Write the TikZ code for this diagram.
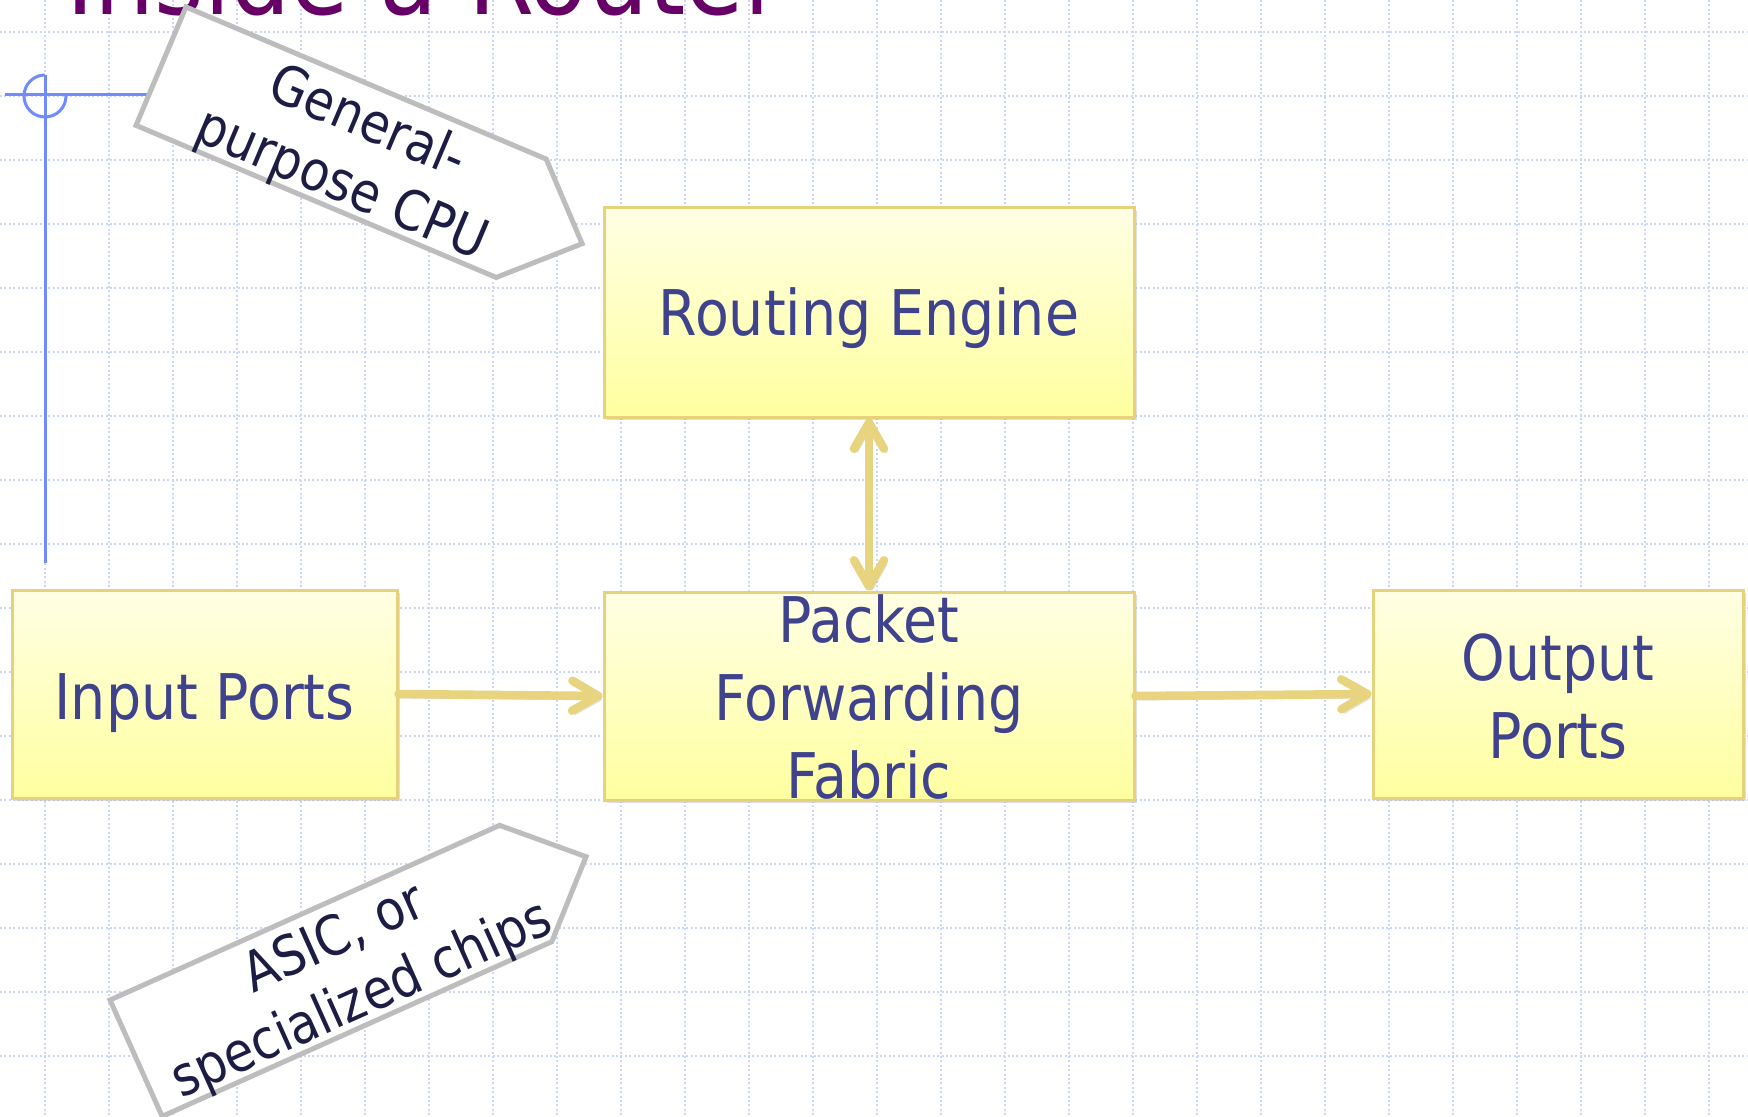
\documentclass[tikz,border=0pt]{standalone}
\usepackage{fontspec}
\setmainfont{DejaVu Sans}[FakeStretch=0.88]
\usetikzlibrary{arrows.meta,shadows}
\definecolor{gridc}{HTML}{CCD6F8}
\definecolor{markc}{HTML}{6F8CFF}
\definecolor{titlec}{HTML}{660066}
\definecolor{boxtop}{HTML}{FFFFE4}
\definecolor{boxbot}{HTML}{FFFFA0}
\definecolor{boxline}{HTML}{E6D27C}
\definecolor{arrowc}{HTML}{E8D47E}
\definecolor{boxtextc}{HTML}{3F428C}
\definecolor{calllinec}{HTML}{BDBDBD}
\definecolor{calltextc}{HTML}{1C1C44}
\begin{document}
\begin{tikzpicture}[x=0.5pt, y=-0.5pt,
  gridline/.style={draw=gridc, line width=1pt, dash pattern=on 1pt off 1.2pt},
  marker/.style={draw=markc, line width=1.5pt},
  block/.style={draw=boxline, line width=1.5pt, top color=boxtop, bottom color=boxbot,
    inner sep=0pt, drop shadow={shadow xshift=1.5pt, shadow yshift=-1.5pt, opacity=0.25}},
  blocktext/.style={text=boxtextc, align=center, inner sep=0pt,
    font=\fontsize{31.5pt}{39pt}\selectfont},
  callout/.style={draw=calllinec, line width=2.5pt, fill=white},
  calltext/.style={text=calltextc, align=center, inner sep=0pt,
    font=\fontsize{27.5pt}{33.5pt}\selectfont},
  flow/.style={draw=arrowc, line width=4.25pt, line cap=round,
    preaction={draw=black, opacity=0.15, transform canvas={shift={(1.5pt,-2pt)}}}},
  tipc/.tip={Straight Barb[length=13pt, width=15pt, round]}
]
\useasboundingbox (0,0) rectangle (1748,1117);
\clip (0,0) rectangle (1748,1117);
\fill[white] (0,0) rectangle (1748,1117);
% grid
\foreach \i in {0,...,26} \draw[gridline] ({45+64*\i},0) -- ({45+64*\i},1117);
\foreach \j in {0,...,16} \draw[gridline] (0,{32+64*\j}) -- (1748,{32+64*\j});
% title
\node[anchor=base west, inner sep=0pt, text=titlec,
  font=\fontsize{54pt}{60pt}\selectfont] (title) at (66,15) {Inside a Router};
% corner marker
\draw[marker] (45,75) -- (45,563);
\draw[marker] (5,95) -- (300,95);
\draw[marker] (45,75) arc[start angle=270, end angle=0, radius=21];
% callouts
\begin{scope}[shift={(186,7)}, rotate=-22.89]
  \draw[callout] (0,0) -- (391,0) -- (457,64) -- (391,128.5) -- (0,128.5) -- cycle;
\end{scope}
\node[calltext, rotate=-22.89] (cpu) at (354,155) {General-\\purpose CPU};
\begin{scope}[shift={(110,1000)}, rotate=24.15]
  \draw[callout] (0,0) -- (427,0) -- (493,64) -- (427,127.5) -- (0,127.5) -- cycle;
\end{scope}
\node[calltext, rotate=24.15] (asic) at (349,971) {ASIC, or\\specialized chips};
% blocks
\node[block, minimum width=265pt, minimum height=104.5pt] (re) at (869,312.5) {};
\node[blocktext] (retext) at ([yshift=-3pt]re.center) {Routing Engine};
\node[block, minimum width=265pt, minimum height=104pt] (pff) at (869,696) {};
\node[blocktext] (pfftext) at ([yshift=-0.5pt]pff.center) {Packet\\Forwarding\\Fabric};
\node[block, minimum width=192.5pt, minimum height=104pt] (in) at (204.5,694) {};
\node[blocktext] (intext) at ([yshift=-4.5pt]in.center) {Input Ports};
\node[block, minimum width=185pt, minimum height=104pt] (out) at (1558,694) {};
\node[blocktext] (outtext) at ([yshift=-1.5pt]out.center) {Output\\Ports};
% connectors
\draw[flow, -tipc] (in.east) -- (pff.west);
\draw[flow, -tipc] (pff.east) -- (out.west);
\draw[flow, tipc-tipc] (re.south) -- (pff.north);
\end{tikzpicture}
\end{document}
